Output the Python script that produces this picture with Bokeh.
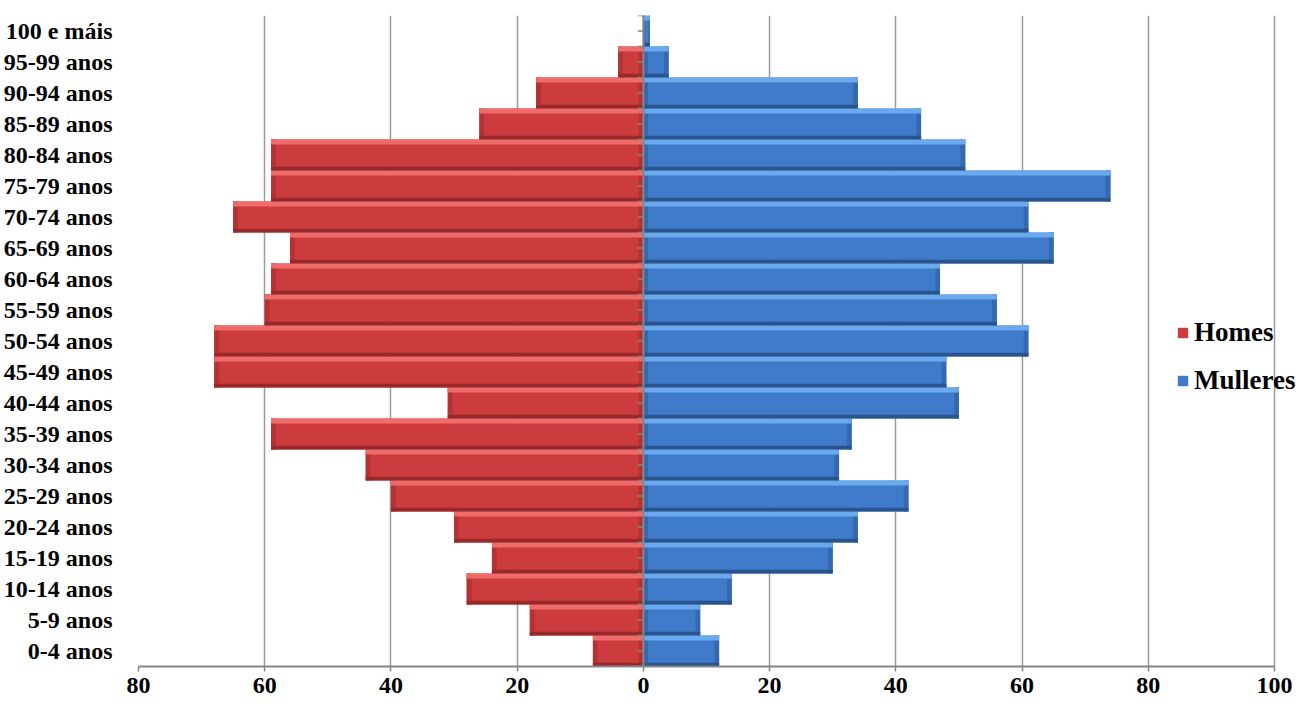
from bokeh.plotting import figure
from bokeh.models import (FactorRange, Legend, LegendItem, ColumnDataSource,
                          FixedTicker, Span)
from bokeh.transform import dodge
from bokeh.embed import file_html
from bokeh.resources import INLINE

# ---- data ----
age_groups = ["0-4 anos", "5-9 anos", "10-14 anos", "15-19 anos", "20-24 anos",
              "25-29 anos", "30-34 anos", "35-39 anos", "40-44 anos", "45-49 anos",
              "50-54 anos", "55-59 anos", "60-64 anos", "65-69 anos", "70-74 anos",
              "75-79 anos", "80-84 anos", "85-89 anos", "90-94 anos", "95-99 anos",
              "100 e máis"]
homes = [8, 18, 28, 24, 30, 40, 44, 59, 31, 68, 68, 60, 59, 56, 65, 59, 59, 26, 17, 4, 0]
mulleres = [12, 9, 14, 30, 34, 42, 31, 33, 50, 48, 61, 56, 47, 65, 61, 74, 51, 44, 34, 4, 1]
x_ticks = [-80, -60, -40, -20, 0, 20, 40, 60, 80, 100]
x_tick_labels = ["80", "60", "40", "20", "0", "20", "40", "60", "80", "100"]
series_names = ["Homes", "Mulleres"]

FONT = "Liberation Serif"

# frame spans x=137..1296 px; axis -80..100 occupies 137..1274
X_END = -80 + 180 * (1296 - 137) / (1274 - 137)

p = figure(width=1296, height=704, x_range=(-80, X_END),
           y_range=FactorRange(factors=age_groups),
           output_backend="svg", toolbar_location=None,
           min_border_left=137, min_border_right=0,
           min_border_top=15, min_border_bottom=38)
p.outline_line_color = None
p.background_fill_color = "white"

src = ColumnDataSource(dict(
    cat=age_groups,
    h_left=[-v for v in homes],
    h_zero=[0] * len(homes),
    h_end_out=[-v + min(0.75, v * 0.25) for v in homes],
    h_end_in=[-min(0.75, v * 0.25) for v in homes],
    m_right=mulleres,
    m_zero=[0] * len(mulleres),
    m_end_out=[v - min(0.75, v * 0.25) for v in mulleres],
    m_end_in=[min(0.75, v * 0.25) for v in mulleres],
))

def bevel_bars(left, right, end_out_l, end_out_r, end_in_l, end_in_r,
               main, top, bottom, end):
    r = p.hbar(y="cat", left=left, right=right, height=1.0, source=src,
               fill_color=main, line_color=None)
    p.hbar(y="cat", left=end_out_l, right=end_out_r, height=1.0, source=src,
           fill_color=end, line_color=None)
    p.hbar(y="cat", left=end_in_l, right=end_in_r, height=1.0, source=src,
           fill_color=end, line_color=None)
    p.hbar(y=dodge("cat", 0.42, range=p.y_range), left=left, right=right,
           height=0.16, source=src, fill_color=top, line_color=None)
    p.hbar(y=dodge("cat", -0.44, range=p.y_range), left=left, right=right,
           height=0.12, source=src, fill_color=bottom, line_color=None)
    return r

r_h = bevel_bars("h_left", "h_zero", "h_left", "h_end_out", "h_end_in", "h_zero",
                 "#CC3B3D", "#F06C6A", "#98292A", "#B53234")
r_m = bevel_bars("m_zero", "m_right", "m_end_out", "m_right", "m_zero", "m_end_in",
                 "#3F7BCA", "#6BA9EE", "#29558F", "#3469B0")

# zero (category) axis line with small ticks
p.add_layout(Span(location=0, dimension="height", line_color="#868686", line_width=2))
for off in (-0.5, 0.0):
    p.segment(x0=-0.9, x1=0, y0=dodge("cat", off, range=p.y_range),
              y1=dodge("cat", off, range=p.y_range), source=src,
              line_color="#868686", line_width=1.5)
top_src = ColumnDataSource(dict(cat=[age_groups[-1]]))
p.segment(x0=-0.9, x1=0, y0=dodge("cat", 0.5, range=p.y_range),
          y1=dodge("cat", 0.5, range=p.y_range), source=top_src,
          line_color="#868686", line_width=1.5)

# x axis
p.xaxis.ticker = FixedTicker(ticks=x_ticks)
p.xaxis.bounds = (-80, 100)
p.xaxis.major_label_overrides = {t: l for t, l in zip(x_ticks, x_tick_labels)}
p.xaxis.axis_line_color = "#868686"
p.xaxis.axis_line_width = 2
p.xaxis.major_tick_line_color = "#868686"
p.xaxis.major_tick_line_width = 1.5
p.xaxis.major_tick_in = 0
p.xaxis.major_tick_out = 5
p.xaxis.minor_tick_line_color = None
p.xaxis.major_label_standoff = 6
p.xaxis.major_label_text_font = FONT
p.xaxis.major_label_text_font_style = "bold"
p.xaxis.major_label_text_font_size = "24px"
p.xaxis.major_label_text_color = "black"

# y axis: labels only
p.yaxis.axis_line_color = None
p.yaxis.major_tick_line_color = None
p.yaxis.minor_tick_line_color = None
p.yaxis.major_label_standoff = 20
p.yaxis.major_label_text_font = FONT
p.yaxis.major_label_text_font_style = "bold"
p.yaxis.major_label_text_font_size = "24px"
p.yaxis.major_label_text_color = "black"

# grid
p.xgrid.ticker = FixedTicker(ticks=x_ticks)
p.xgrid.grid_line_color = "#9a9a9a"
p.xgrid.grid_line_width = 1.5
p.ygrid.grid_line_color = None

legend = Legend(items=[LegendItem(label=series_names[0], renderers=[r_h]),
                       LegendItem(label=series_names[1], renderers=[r_m])],
                location=(1038, 270),
                label_text_font=FONT, label_text_font_style="bold",
                label_text_font_size="27px", label_text_color="black",
                glyph_width=13, glyph_height=13, label_standoff=5,
                spacing=17, padding=0, margin=0,
                background_fill_alpha=0, border_line_color=None)
p.add_layout(legend)

open("out.html", "w").write(file_html(p, INLINE))
